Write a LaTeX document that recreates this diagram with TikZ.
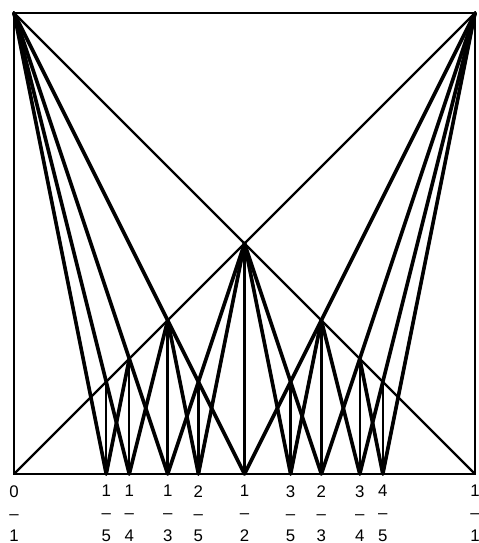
\documentclass[tikz,border=0pt]{standalone}
\usepackage{fontspec}
\setmainfont{Liberation Sans}
\tikzset{FareyRay/.style={line width=1.8pt},
         FareyDrop/.style={line width=1.2pt},
         FareyDiag/.style={line width=1.1pt},
         FareyFrac/.style={font=\fontsize{8.3}{10.9}\selectfont,align=center,
                           inner sep=0pt,anchor=north}}

\begin{document}
\begin{tikzpicture}[x=8cm,y=8cm,line cap=round,line join=round]
  \useasboundingbox (-.0304,-.1497) rectangle (1.0065,1.0282);
  % points on the base (p/q,0) and the raised points (p/q,1/q)
  \foreach \p/\q in {0/1,1/5,1/4,1/3,2/5,1/2,3/5,2/3,3/4,4/5,1/1} {
    \coordinate (b\p\q) at (\p/\q,0);
    \coordinate (t\p\q) at (\p/\q,1/\q);
    \node[FareyFrac] (l\p\q) at ([yshift=-5.4pt]b\p\q) {\p\\–\\\q};
  }
  % the two diagonals
  \draw[FareyDiag] (t01) -- (b11) (t11) -- (b01);
  % drops from each raised point
  \foreach \f in {15,14,13,25,12,35,23,34,45}
    \draw[FareyDrop] (t\f) -- (b\f);
  % rays between Farey neighbours
  \foreach \src/\dst in {01/15,01/14,01/13,01/12,11/12,11/23,11/34,11/45,
                         12/13,12/25,12/35,12/23,13/14,13/25,23/34,23/35,
                         14/15,34/45}
    \draw[FareyRay] (t\src) -- (b\dst);
  \draw[line width=1.3pt] (b01) rectangle (t11);
\end{tikzpicture}
\end{document}
